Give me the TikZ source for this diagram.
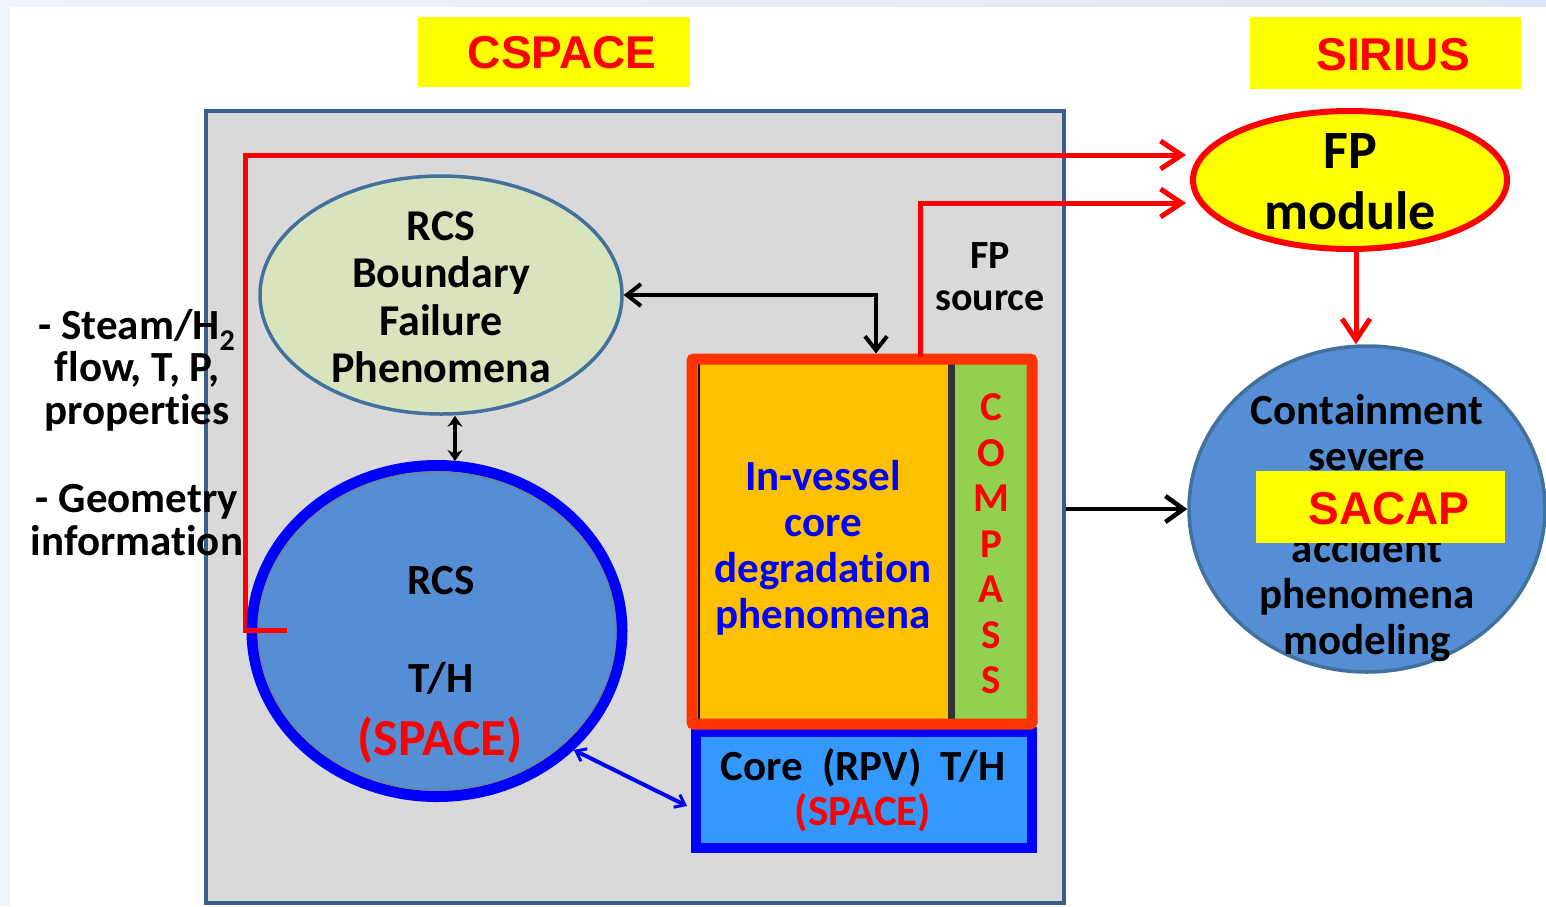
\documentclass[tikz,border=0pt]{standalone}
\usepackage{fontspec}
\setmainfont{Carlito}[Ligatures=NoCommon]
\newfontfamily\arialf{Liberation Sans}
\usetikzlibrary{shapes.geometric,arrows.meta,calc}
\definecolor{graybg}{HTML}{D9D9D9}
\definecolor{boxborder}{HTML}{3A5F8C}
\definecolor{greenfill}{HTML}{D7E4BD}
\definecolor{ellborder}{HTML}{41719C}
\definecolor{bluefill}{HTML}{558ED5}
\definecolor{orangefill}{HTML}{FFC000}
\definecolor{compgreen}{HTML}{92D050}
\definecolor{redorange}{HTML}{FF3300}
\definecolor{corefill}{HTML}{3399FF}
\definecolor{pureblue}{HTML}{0000FF}
\definecolor{purered}{HTML}{FF0000}
\definecolor{pureyellow}{HTML}{FFFF00}
\definecolor{stripblue}{HTML}{DCE8F5}
\definecolor{stripleft}{HTML}{EEF4FB}
\definecolor{sepdark}{HTML}{333333}
\tikzset{
  body/.style={font=\bfseries\fontsize{43}{47}\selectfont, align=center, inner sep=0},
  titletxt/.style={font=\arialf\bfseries\fontsize{46}{54}\selectfont, text=purered, inner sep=0},
  yellowlbl/.style={fill=pureyellow, inner sep=0},
  redconn/.style={draw=purered, line width=5, -{Straight Barb[length=21,width=28,line width=5]}},
  blackconn/.style={draw=black, line width=4.5},
}
\begin{document}
\begin{tikzpicture}[x=1pt,y=-1pt]
\useasboundingbox (0,0) rectangle (1546,906);
\fill[white] (0,0) rectangle (1546,906);
\shade[left color=stripleft, right color=stripblue] (0,0) rectangle (1546,6);
\fill[stripleft] (0,0) rectangle (10,906);

% main CSPACE box
\node[draw=boxborder, line width=4, fill=graybg, minimum width=858, minimum height=792, inner sep=0] (cspacebox) at (635,507) {};

% titles
\node[yellowlbl, minimum width=272, minimum height=70] (cspacelbl) at (554,52) {};
\node[titletxt] (cspacetxt) at (562,53) {CSPACE};
\node[yellowlbl, minimum width=271, minimum height=72] (siriuslbl) at (1385.5,53) {};
\node[titletxt] (siriustxt) at (1393,55) {SIRIUS};

% left text
\node[body, font=\bfseries\fontsize{43}{42.5}\selectfont] (steam) at (137,370) {- Steam/H\textsubscript{2}\\flow, T, P,\\properties};
\node[body, font=\bfseries\fontsize{43}{43}\selectfont] (geom) at (137,520) {- Geometry\\information};

% red line to FP module (from RCS)
\coordinate (rstart) at (287,630);
\coordinate (fpin1) at (1186,155);
\draw[redconn] (rstart) -- ++(-42,0) |- (fpin1);

% RCS boundary ellipse
\node[ellipse, draw=ellborder, line width=3.5, fill=greenfill, minimum width=362, minimum height=238, inner sep=0] (rcsb) at (441,295) {};
\node[body, font=\bfseries\fontsize{44}{47.5}\selectfont] (rcsbtxt) at (441,297) {RCS\\Boundary\\Failure\\Phenomena};

% RCS T/H circle
\node[ellipse, draw=pureblue, line width=11, fill=bluefill, minimum width=370, minimum height=331, inner sep=0] (rcs) at (437,631) {};
\draw[gray!70!bluefill, line width=1.5] (437,631) ellipse [x radius=179, y radius=159];
\node[body] (rcstxt1) at (441,581) {RCS};
\node[body] (rcstxt2) at (441,678) {T/H};
\node[body, font=\bfseries\fontsize{52}{58}\selectfont, text=purered] (rcstxt3) at (440,740) {(SPACE)};

% red re-draw of the short stub over circle
\draw[draw=purered, line width=5] (rstart) -- ++(-42,0);

% double arrow between ellipse and circle
\draw[blackconn, {Stealth[length=11,width=15]}-{Stealth[length=11,width=15]}] ([xshift=14]rcsb.south) -- ([xshift=18,yshift=-1]rcs.north);

% core box
\node[draw=pureblue, line width=10, fill=corefill, minimum width=336, minimum height=116, inner sep=0] (core) at (864,790) {};
\node[body] (coretxt1) at (863,768) {Core~~(RPV)~~T/H};
\node[body, text=purered] (coretxt2) at (863,813) {(SPACE)};

% in-vessel box
\fill[orangefill] (692,359) rectangle (953,724);
\fill[compgreen] (953,359) rectangle (1032,724);
\draw[sepdark, line width=7] (951,361) -- (951,722);
\draw[black, line width=2] (699,362) -- (699,721);
\node[draw=redorange, line width=11, rounded corners=2, minimum width=340, minimum height=365, inner sep=0] (invessel) at (862,541.5) {};
\node[body, text=pureblue, font=\bfseries\fontsize{43}{46}\selectfont] (invtxt) at (823,548) {In-vessel\\core\\degradation\\phenomena};
\node[body, text=purered, font=\bfseries\fontsize{41}{45.5}\selectfont] (compass) at (991,544) {C\\O\\M\\P\\A\\S\\S};

% FP source text
\node[body, font=\bfseries\fontsize{40}{42}\selectfont] (fpsrc) at (990,277) {FP\\source};

% red line FP source
\coordinate (fpsrcstart) at (920,357);
\coordinate (fpin2) at (1186,203);
\draw[redconn] (fpsrcstart) |- (fpin2);

% black arrow between ellipse and in-vessel
\draw[blackconn, line width=4, {Straight Barb[length=14,width=22,line width=4]}-{Straight Barb[length=14,width=22,line width=4]}] (rcsb.east) -| ([xshift=14]invessel.north);

% blue arrow between circle and core box
\draw[pureblue, line width=4, {Straight Barb[length=9,width=14,line width=3]}-{Straight Barb[length=9,width=14,line width=3]}] (rcs.-41) -- ([yshift=-16,xshift=-4]core.west);

% FP module ellipse
\node[ellipse, draw=purered, line width=6, fill=pureyellow, minimum width=314, minimum height=138, inner sep=0] (fp) at (1350,180) {};
\node[body, font=\bfseries\fontsize{54}{61}\selectfont] (fptxt) at (1350,182) {FP\\module};

% containment circle
\node[ellipse, draw=ellborder, line width=3.5, fill=bluefill, minimum width=356, minimum height=326, inner sep=0] (cont) at (1367,509) {};
\node[body, font=\bfseries\fontsize{43}{46}\selectfont] (conttxt) at (1367,528) {Containment\\severe\\\strut\\accident\\phenomena\\modeling};
\node[yellowlbl, minimum width=249, minimum height=72] (sacaplbl) at (1380.5,507) {};
\node[titletxt] (sacaptxt) at (1389,509) {SACAP};

% arrow FP module to containment
\draw[redconn] ([xshift=6]fp.south) -- ([xshift=-11]cont.north);

% arrow CSPACE box to containment
\draw[blackconn, -{Straight Barb[length=18,width=26,line width=4.5]}] (cspacebox.east |- cont.west) -- (cont.west);
\end{tikzpicture}
\end{document}
